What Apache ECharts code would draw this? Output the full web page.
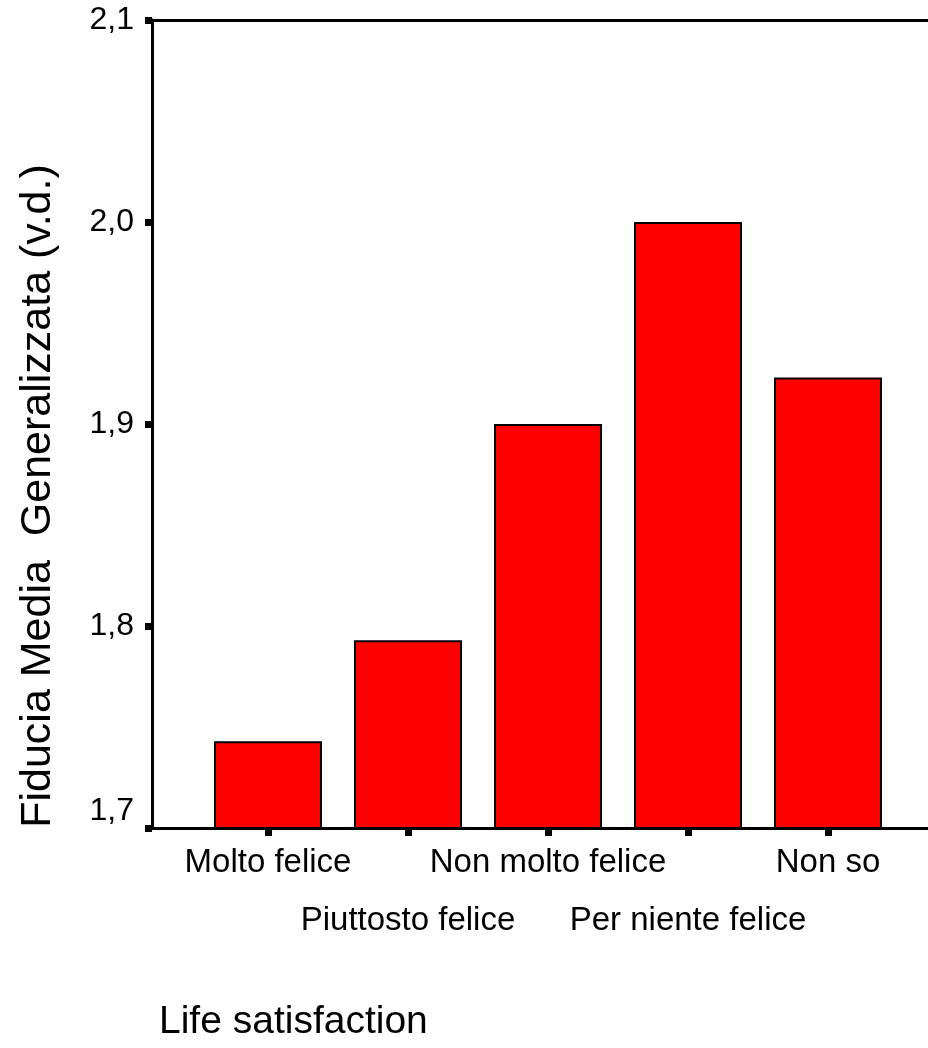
<!DOCTYPE html>
<html>
<head>
<meta charset="utf-8">
<script src="https://cdn.jsdelivr.net/npm/echarts@6/dist/echarts.min.js"></script>
<style>
  html, body { margin: 0; padding: 0; background: #fff; }
  #chart { width: 928px; height: 1048px; }
</style>
</head>
<body>
<div id="chart"></div>
<script>
// dati
var categories = ['Molto felice', 'Piuttosto felice', 'Non molto felice', 'Per niente felice', 'Non so'];
var fiduciaMedia = [1.743, 1.793, 1.900, 2.000, 1.923];
var yMin = 1.7;
var yMax = 2.1;
var yStep = 0.1;

var font = '"Liberation Sans", Arial, sans-serif';
var myChart = echarts.init(document.getElementById('chart'));

myChart.setOption({
  animation: false,
  backgroundColor: '#fff',
  title: {
    text: 'Life satisfaction',
    left: 154,
    top: 998,
    textStyle: { fontFamily: font, fontSize: 39, fontWeight: 'normal', color: '#000' }
  },
  graphic: [{
    type: 'text',
    x: 38,
    y: 496,
    rotation: Math.PI / 2,
    style: {
      text: 'Fiducia Media  Generalizzata (v.d.)',
      font: '43px ' + font,
      fill: '#000',
      align: 'center',
      verticalAlign: 'middle'
    }
  }],
  grid: [
    // griglia delle barre
    { left: 198, width: 700, top: 20, bottom: 220 },
    // cornice con gli assi
    { left: 152, right: -10, top: 20, bottom: 220 }
  ],
  xAxis: [
    {
      gridIndex: 0,
      type: 'category',
      data: categories,
      axisLine: { show: false },
      axisTick: { show: true, alignWithLabel: true, length: 8, lineStyle: { color: '#000', width: 7 } },
      axisLabel: {
        interval: 0,
        margin: 6,
        color: '#000',
        fontFamily: font,
        fontSize: 33,
        lineHeight: 58,
        formatter: function (value, index) {
          return index % 2 ? '\n' + value : value;
        }
      },
      splitLine: { show: false }
    },
    {
      gridIndex: 1,
      type: 'value',
      min: 0,
      max: 1,
      position: 'bottom',
      axisLine: { show: true, lineStyle: { color: '#000', width: 3 } },
      axisTick: { show: false },
      axisLabel: { show: false },
      splitLine: { show: false }
    },
    {
      gridIndex: 1,
      type: 'value',
      min: 0,
      max: 1,
      position: 'top',
      axisLine: { show: true, onZero: false, lineStyle: { color: '#000', width: 3 } },
      axisTick: { show: false },
      axisLabel: { show: false },
      splitLine: { show: false }
    }
  ],
  yAxis: [
    {
      gridIndex: 0,
      type: 'value',
      min: yMin,
      max: yMax,
      interval: yStep,
      show: false
    },
    {
      gridIndex: 1,
      type: 'value',
      min: yMin,
      max: yMax,
      interval: yStep,
      axisLine: { show: true, onZero: false, lineStyle: { color: '#000', width: 3 } },
      axisTick: { show: true, length: 7, lineStyle: { color: '#000', width: 7 } },
      axisLabel: {
        margin: 18,
        color: '#000',
        fontFamily: font,
        fontSize: 32,
        formatter: function (v) {
          var s = v.toFixed(1).replace('.', ',');
          // l'etichetta minima sta sopra la tacca
          return Math.abs(v - yMin) < 1e-9 ? '{m|' + s + '}' : s;
        },
        rich: {
          m: { fontFamily: font, fontSize: 32, color: '#000', padding: [0, 0, 34, 0] }
        }
      },
      splitLine: { show: false }
    }
  ],
  series: [
    {
      type: 'bar',
      xAxisIndex: 0,
      yAxisIndex: 0,
      data: fiduciaMedia,
      barWidth: 108,
      itemStyle: { color: '#ff0000', borderColor: '#000', borderWidth: 2 }
    }
  ]
});
</script>
</body>
</html>
